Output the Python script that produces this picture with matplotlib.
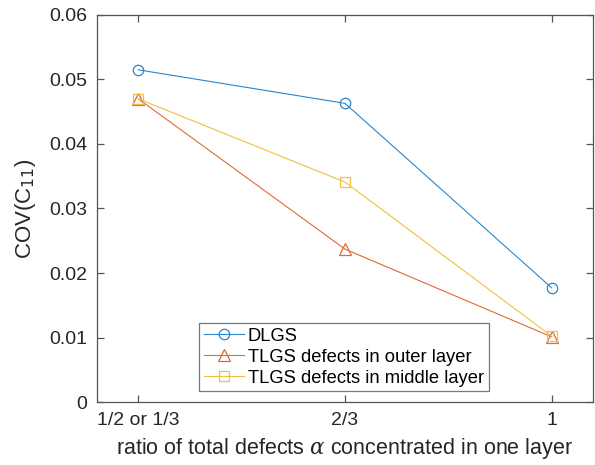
import matplotlib
matplotlib.use("Agg")
import matplotlib.pyplot as plt

categories = ["1/2 or 1/3", "2/3", "1"]
x_pos = [1, 2, 3]
dlgs = [0.0515, 0.0463, 0.0177]
tlgs_outer = [0.0470, 0.0237, 0.0101]
tlgs_middle = [0.0470, 0.0341, 0.0102]
y_ticks = [0, 0.01, 0.02, 0.03, 0.04, 0.05, 0.06]
y_ticklabels = ["0", "0.01", "0.02", "0.03", "0.04", "0.05", "0.06"]

plt.rcParams['font.family'] = ['Liberation Sans', 'DejaVu Sans']
plt.rcParams['mathtext.fontset'] = 'dejavuserif'

fig = plt.figure(figsize=(5.95, 4.65), dpi=100)
ax = fig.add_axes([97/595, 63/465, 496/595, 387/465])

c1, c2, c3 = '#2a86cc', '#e06a36', '#f0c040'
ax.plot(x_pos, dlgs, '-o', color=c1, mfc='none', mec=c1, lw=0.8, ms=7.5, mew=0.9, label='DLGS')
ax.plot(x_pos, tlgs_outer, '-^', color=c2, mfc='none', mec=c2, lw=0.8, ms=8, mew=0.9, label='TLGS defects in outer layer')
ax.plot(x_pos, tlgs_middle, '-s', color=c3, mfc='none', mec=c3, lw=0.8, ms=6.5, mew=0.9, label='TLGS defects in middle layer')

ax.set_xlim(0.8, 3.2)
ax.set_ylim(0, 0.06)
ax.set_xticks(x_pos)
ax.set_xticklabels(categories)
ax.set_yticks(y_ticks)
ax.set_yticklabels(y_ticklabels)

gray = '#262626'
for s in ax.spines.values():
    s.set_color('#555555')
    s.set_linewidth(0.9)
ax.tick_params(direction='in', top=True, right=True, length=5, width=0.9,
               color='#555555', labelcolor=gray, labelsize=14, pad=7)

ax.set_xlabel(r'ratio of total defects $\alpha$ concentrated in one layer', fontsize=15.5, color=gray, labelpad=5)
ax.set_ylabel(r'COV(C$_{11}$)', fontsize=16, color=gray, labelpad=8)
ax.yaxis.get_label().set_math_fontfamily('dejavusans')

leg = ax.legend(loc='lower left', bbox_to_anchor=(0.206, 0.028, 0.584, 0.194), mode='expand',
                fontsize=13.2, frameon=True, fancybox=False, edgecolor='#555555',
                borderpad=0.25, labelspacing=0.22, handlelength=2.2, handletextpad=0.2,
                borderaxespad=0)
leg.get_frame().set_linewidth(0.9)
for t in leg.get_texts():
    t.set_color('black')

fig.savefig('out.png', dpi=100)
